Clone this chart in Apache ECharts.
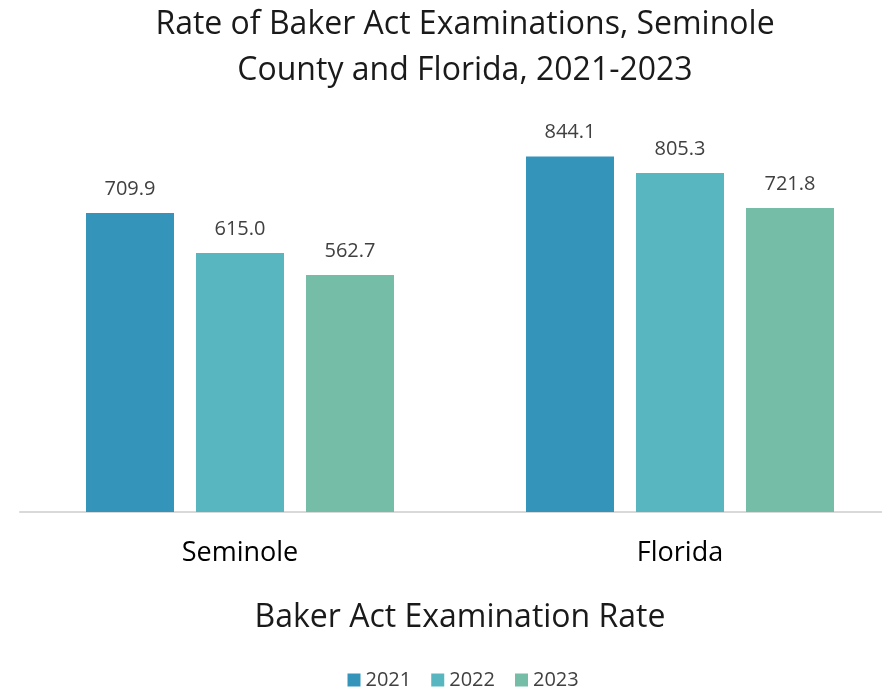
<!DOCTYPE html>
<html>
<head>
<meta charset="utf-8">
<script src="https://cdn.jsdelivr.net/npm/echarts@6/dist/echarts.min.js"></script>
<style>
  html, body { margin: 0; padding: 0; background: #fff; }
  #chart { width: 882px; height: 693px; }
</style>
</head>
<body>
<div id="chart"></div>
<script>
const categories = ['Seminole', 'Florida']
const years = ['2021', '2022', '2023']
const rates2021 = [709.9, 844.1]
const rates2022 = [615.0, 805.3]
const rates2023 = [562.7, 721.8]
const colors = ['#3494BA', '#58B6C0', '#75BDA7']

const font = 'Open Sans'
const chart = echarts.init(document.getElementById('chart'))

const seriesData = [rates2021, rates2022, rates2023]

// legend centred around x = 460
const legendW = 3 * (13 + 5 + 47) + 2 * 20

chart.setOption({
  animation: false,
  color: colors,
  textStyle: { fontFamily: font },
  title: {
    text: 'Rate of Baker Act Examinations, Seminole\nCounty and Florida, 2021-2023',
    left: 460,
    textAlign: 'center',
    top: -3,
    textStyle: {
      fontFamily: font,
      fontSize: 32,
      fontWeight: 'normal',
      color: '#1a1a1a',
      lineHeight: 46
    }
  },
  legend: {
    data: years,
    bottom: -2,
    left: 460 - legendW / 2,
    itemWidth: 13,
    itemHeight: 13,
    itemGap: 20,
    icon: 'rect',
    textStyle: { fontFamily: font, fontSize: 20, color: '#404040' }
  },
  grid: {
    left: 20,
    top: 133,
    width: 880,
    height: 379,
    outerBoundsMode: 'none'
  },
  xAxis: {
    type: 'category',
    data: categories,
    name: 'Baker Act Examination Rate',
    nameLocation: 'middle',
    nameGap: 90,
    nameTextStyle: { fontFamily: font, fontSize: 32, color: '#1a1a1a' },
    axisLine: { lineStyle: { color: '#d9d9d9', width: 2 } },
    axisTick: { show: false },
    axisLabel: { fontFamily: font, fontSize: 27, color: '#000', margin: 28 }
  },
  yAxis: {
    type: 'value',
    min: 0,
    max: 900,
    show: false,
    splitLine: { show: false }
  },
  series: seriesData.map((data, i) => ({
    name: years[i],
    type: 'bar',
    data: data,
    barWidth: 88,
    barGap: '25%',
    label: {
      show: true,
      position: 'top',
      distance: 14,
      formatter: p => p.value.toFixed(1),
      fontFamily: font,
      fontSize: 20,
      color: '#404040'
    }
  }))
})
</script>
</body>
</html>
